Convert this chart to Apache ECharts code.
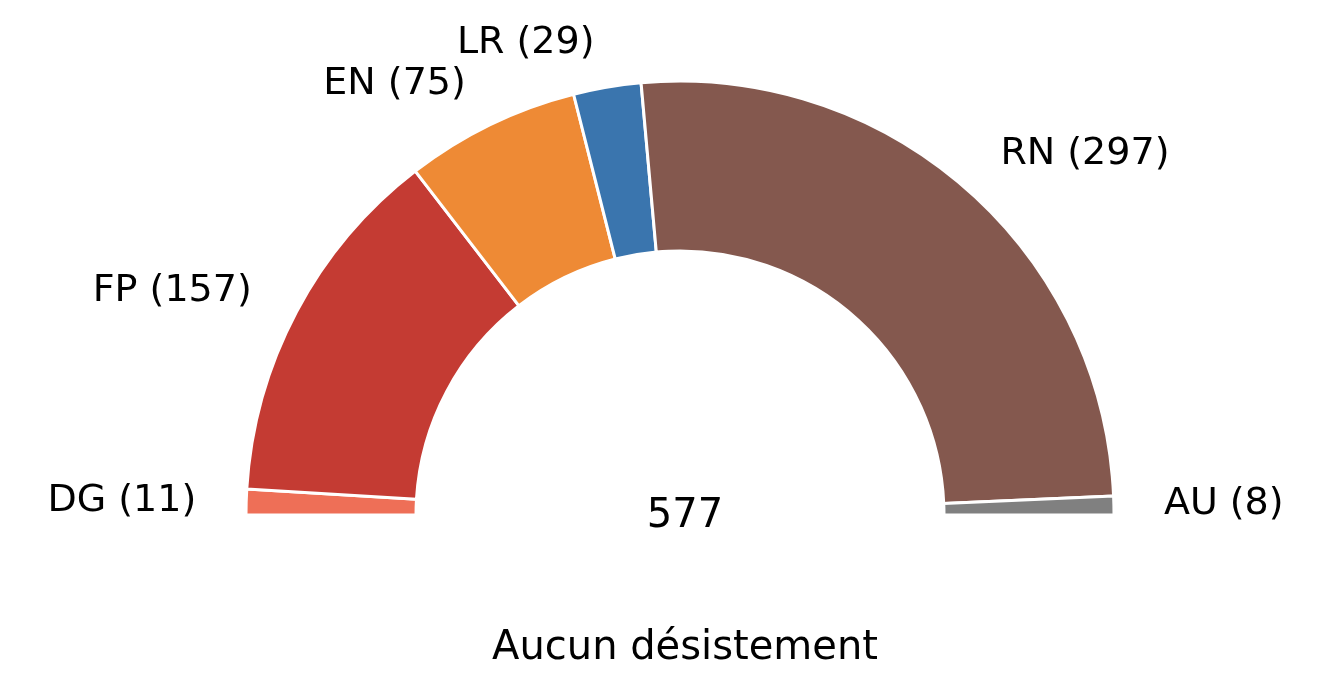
<!DOCTYPE html>
<html>
<head>
<meta charset="utf-8">
<script src="https://cdn.jsdelivr.net/npm/echarts@6/dist/echarts.min.js"></script>
<style>html,body{margin:0;background:#fff}#c{width:1328px;height:680px}</style>
</head>
<body>
<div id="c"></div>
<script>
var parties = ['DG', 'FP', 'EN', 'LR', 'RN', 'AU'];
var seats = [11, 157, 75, 29, 297, 8];
var colors = ['#ee6f57', '#c43b33', '#ee8a35', '#3a75ae', '#84584e', '#808080'];
var total = 577;
var title = 'Aucun désistement';

var font = 'DejaVu Sans';
var data = [];
for (var i = 0; i < parties.length; i++) {
	data.push({
		name: parties[i] + ' (' + seats[i] + ')',
		value: seats[i],
		itemStyle: { color: colors[i] }
	});
}
// hidden lower half
data.push({
	name: '', value: total,
	itemStyle: { color: 'rgba(0,0,0,0)', borderWidth: 0 },
	label: { show: false }, labelLine: { show: false }
});

var chart = echarts.init(document.getElementById('c'));
chart.setOption({
	animation: false,
	title: [
		{ text: String(total), left: 680, top: 492, textAlign: 'center',
			textStyle: { fontFamily: font, fontSize: 40, fontWeight: 'normal', color: '#000' } },
		{ text: title, left: 680, top: 624, textAlign: 'center',
			textStyle: { fontFamily: font, fontSize: 40, fontWeight: 'normal', color: '#000' } }
	],
	series: [{
		type: 'pie',
		center: [680, 515],
		radius: [264, 434],
		startAngle: 180,
		clockwise: true,
		avoidLabelOverlap: false,
		emphasis: { disabled: true },
		itemStyle: { borderColor: '#fff', borderWidth: 3 },
		label: {
			show: true, position: 'outside',
			fontFamily: font, fontSize: 38, color: '#000',
			formatter: '{b}'
		},
		labelLine: { show: false, length: 45, length2: 0 },
		data: data
	}]
});
</script>
</body>
</html>
